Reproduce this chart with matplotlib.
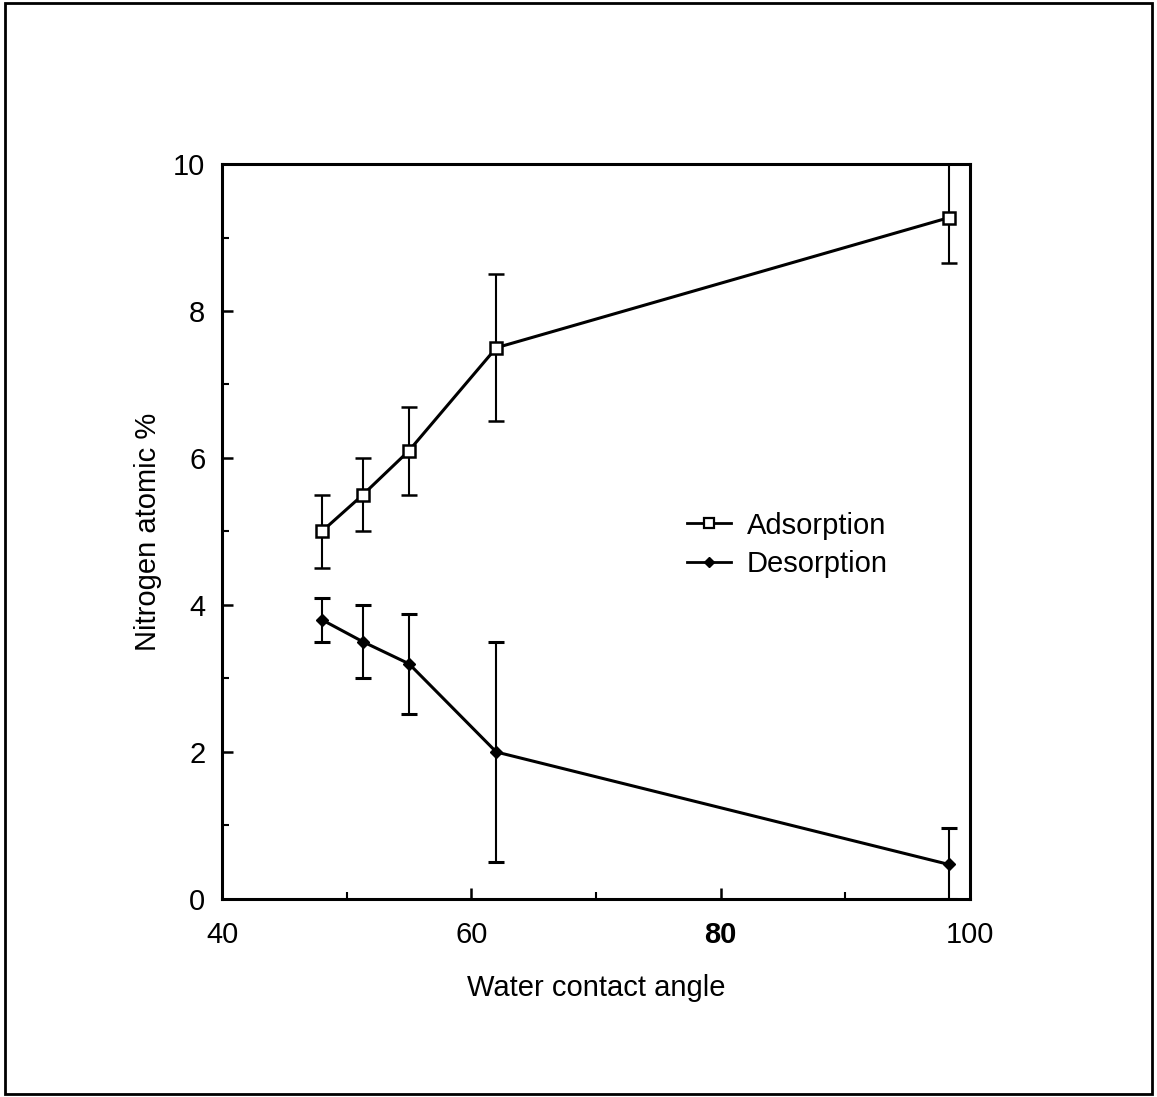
import matplotlib
matplotlib.use("Agg")
import matplotlib.pyplot as plt
from matplotlib.patches import Rectangle
from matplotlib.lines import Line2D

plt.rcParams['font.family'] = ['Liberation Sans', 'DejaVu Sans']

# water contact angle
angle = [48.0, 51.3, 55.0, 62.0, 98.3]

# adsorption
ads = [5.0, 5.5, 6.1, 7.5, 9.27]
ads_lo = [0.5, 0.5, 0.6, 1.0, 0.62]
ads_hi = [0.5, 0.5, 0.6, 1.0, 0.73]

# desorption
des = [3.8, 3.5, 3.2, 2.0, 0.47]
des_lo = [0.3, 0.5, 0.68, 1.5, 0.47]
des_hi = [0.3, 0.5, 0.68, 1.5, 0.5]

xticks = [40, 60, 80, 100]
yticks = [0, 2, 4, 6, 8, 10]

fig = plt.figure(figsize=(11.57, 10.97), dpi=100)
ax = fig.add_axes([0.1919, 0.1805, 0.6465, 0.67])

ax.errorbar(angle, ads, yerr=[ads_lo, ads_hi], color='black', lw=2.2,
            marker='s', ms=8, mfc='white', mec='black', mew=1.8,
            ecolor='black', elinewidth=1.5, capsize=6, capthick=2.2)
ax.errorbar(angle, des, yerr=[des_lo, des_hi], color='black', lw=2.2,
            marker='D', ms=6, mfc='black', mec='black',
            ecolor='black', elinewidth=1.5, capsize=6, capthick=2.2)
# dots inside the squares
ax.plot(angle, ads, ls='none', marker='s', ms=2.5, color='black')

ax.set_xlim(40, 100)
ax.set_ylim(0, 10)
ax.set_xticks(xticks)
ax.set_yticks(yticks)
ax.set_xticks([50, 70, 90], minor=True)
ax.set_yticks([1, 3, 5, 7, 9], minor=True)
ax.tick_params(which='major', direction='in', length=8, width=1.8, labelsize=21)
ax.tick_params(axis='x', which='major', pad=16)
ax.tick_params(axis='y', which='major', pad=12)
ax.tick_params(which='minor', direction='in', length=5, width=1.5)
for lab in ax.get_xticklabels():
    if lab.get_text() == '80':
        lab.set_fontweight('bold')

for s in ax.spines.values():
    s.set_linewidth(2.2)

ax.set_xlabel('Water contact angle', fontsize=21, labelpad=18)
ax.set_ylabel('Nitrogen atomic %', fontsize=21, labelpad=8)

handles = [
    Line2D([], [], color='black', lw=2, marker='s', ms=7, mfc='white', mec='black', mew=1.6),
    Line2D([], [], color='black', lw=2, marker='D', ms=5, mfc='black', mec='black'),
]
ax.legend(handles, ['Adsorption', 'Desorption'], loc='center left',
          bbox_to_anchor=(0.622, 0.482), frameon=False, fontsize=21,
          handlelength=1.5, handletextpad=0.55, labelspacing=0.35,
          borderpad=0, borderaxespad=0)

# outer frame
fig.patches.append(Rectangle((0.004, 0.003), 0.992, 0.994, transform=fig.transFigure,
                             fill=False, edgecolor='black', lw=2))

fig.savefig('out.png', dpi=100)
